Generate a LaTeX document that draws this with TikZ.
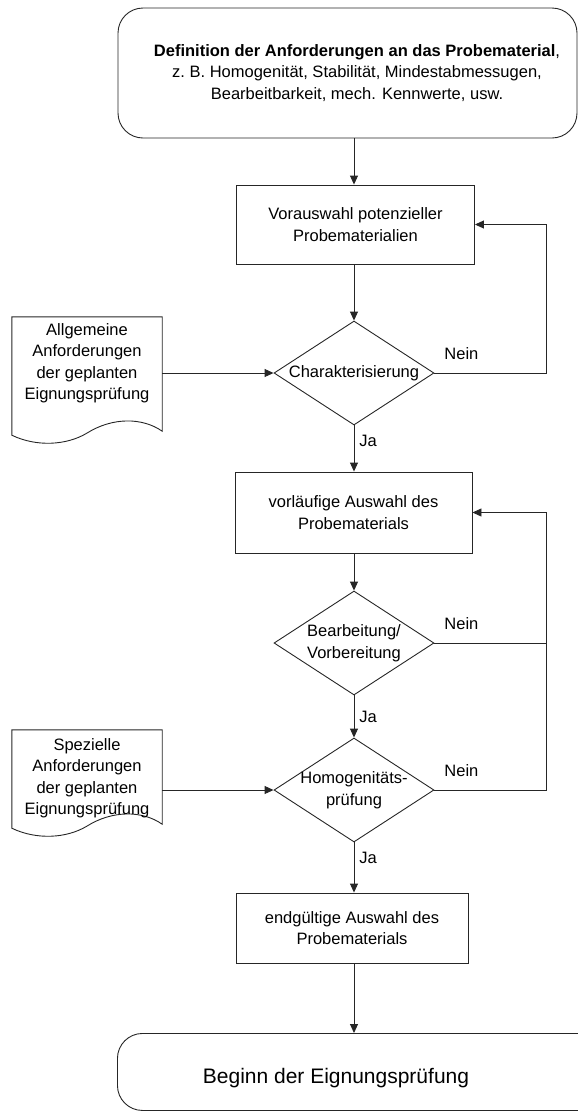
\documentclass[tikz,border=0pt]{standalone}
\usepackage{fontspec}
\setmainfont{Liberation Sans}
\usetikzlibrary{shapes.geometric,arrows.meta,calc}
\begin{document}
\begin{tikzpicture}[x=1pt,y=-1pt,
  line/.style={draw=black!85, line width=0.9pt},
  arr/.style={line, -{Triangle[length=9pt,width=8pt]}},
  txt/.style={font=\fontsize{16.5}{21.5}\selectfont, align=center, inner sep=0pt, text=black},
  proc/.style={line, rectangle, inner sep=0pt, minimum height=79pt, txt},
  dia/.style={line, diamond, inner sep=0pt, minimum width=160pt, minimum height=104pt},
  lab/.style={font=\fontsize{16.5}{20}\selectfont, inner sep=0pt},
  term/.style={line, rounded corners=25pt, inner sep=0pt},
  docbox/.style={inner sep=0pt, minimum width=150pt},
]
\useasboundingbox (0,0) rectangle (578,1112);
\clip (0,0) rectangle (578,1112);

% terminators
\node[term, minimum width=459pt, minimum height=130pt] (top) at (347.5,73) {};
\node[txt] (title) at (357,73) {\textbf{Definition der Anforderungen an das Probematerial},\\ z.\ B. Homogenität, Stabilität, Mindestabmessugen,\\ Bearbeitbarkeit, mech. Kennwerte, usw.};
\node[term, minimum width=503pt, minimum height=77pt, anchor=north west] (bot) at (117,1033) {};
\node[font=\fontsize{21}{24}\selectfont, inner sep=0pt] (bottxt) at (336,1078) {Beginn der Eignungsprüfung};

% process boxes
\node[proc, minimum width=238pt] (b1) at (355.5,224.5) {Vorauswahl potenzieller\\Probematerialien};
\node[proc, minimum width=237pt, minimum height=81pt] (b2) at (353.5,512.5) {vorläufige Auswahl des\\Probematerials};
\node[proc, minimum width=232pt, minimum height=70pt] (b3) at (352,928) {endgültige Auswahl des\\Probematerials};

% decisions
\node[dia] (d1) at (354,373) {};
\node[txt] at (d1) {Charakterisierung};
\node[dia] (d2) at (354,643) {};
\node[txt] at (d2) {Bearbeitung/\\Vorbereitung};
\node[dia] (d3) at (354,790) {};
\node[txt] at (d3) {Homogenitäts-\\prüfung};

% documents
\node[docbox, minimum height=118pt] (doc1) at (87,376) {};
\draw[line] (doc1.north west) -- (doc1.north east) -- ($(doc1.south east)+(0,-4)$)
  .. controls ($(doc1.south east)+(-20,-18)$) and ($(doc1.south east)+(-50,-18)$) .. ($(doc1.south west)+(75,-2)$)
  .. controls ($(doc1.south west)+(55,10)$) and ($(doc1.south west)+(25,12)$) .. (doc1.south west) -- cycle;
\node[txt] at ([yshift=13pt]doc1.center) {Allgemeine\\Anforderungen\\der geplanten\\Eignungsprüfung};

\node[docbox, minimum height=98pt] (doc2) at (87,779) {};
\draw[line] (doc2.north west) -- (doc2.north east) -- ($(doc2.south east)+(0,-4)$)
  .. controls ($(doc2.south east)+(-20,-18)$) and ($(doc2.south east)+(-50,-18)$) .. ($(doc2.south west)+(75,-2)$)
  .. controls ($(doc2.south west)+(55,10)$) and ($(doc2.south west)+(25,12)$) .. (doc2.south west) -- cycle;
\node[txt] at ([yshift=1pt]doc2.center) {Spezielle\\Anforderungen\\der geplanten\\Eignungsprüfung};

% connectors
\coordinate (rx) at (546,0);
\draw[arr] (d1.north |- top.south) -- (d1.north |- b1.north);
\draw[arr] (d1.north |- b1.south) -- (d1.north);
\draw[arr] (d1.west -| doc1.east) -- (d1.west);
\draw[arr] (d1.south) -- (d1.south |- b2.north) node[lab, pos=0.33, right=5pt] {Ja};
\draw[arr] (d1.east) -- (d1.east -| rx) |- (b1.east);
\node[lab] at ($(d1.east)+(27,-19)$) {Nein};

\draw[arr] (d2.north |- b2.south) -- (d2.north);
\draw[line] (d2.east) -- (d2.east -| rx);
\node[lab] at ($(d2.east)+(27,-19)$) {Nein};
\draw[arr] (d2.south) -- (d3.north) node[lab, midway, right=5pt] {Ja};

\draw[arr] (d3.east) -- (d3.east -| rx) |- (b2.east);
\node[lab] at ($(d3.east)+(27,-19)$) {Nein};
\draw[arr] (d3.west -| doc2.east) -- (d3.west);
\draw[arr] (d3.south) -- (d3.south |- b3.north) node[lab, pos=0.3, right=5pt] {Ja};
\draw[arr] (d3.south |- b3.south) -- (d3.south |- bot.north);
\end{tikzpicture}
\end{document}
